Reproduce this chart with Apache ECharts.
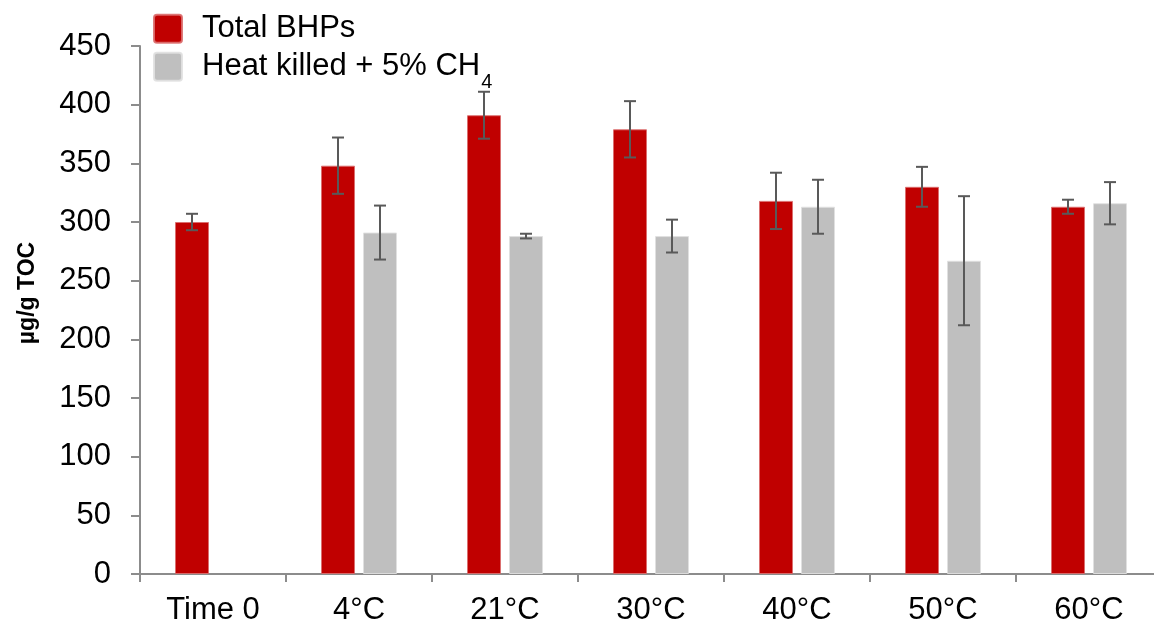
<!DOCTYPE html>
<html>
<head>
<meta charset="utf-8">
<script src="https://cdn.jsdelivr.net/npm/echarts@6/dist/echarts.min.js"></script>
<style>
  html, body { margin: 0; padding: 0; background: #fff; overflow: hidden; }
  /* the category axis runs a little past the right edge of the page */
  #chart { width: 1162px; height: 626px; }
</style>
</head>
<body>
<div id="chart"></div>
<script>
// Categories (incubation temperature)
const categories = ['Time 0', '4°C', '21°C', '30°C', '40°C', '50°C', '60°C'];

// Total BHPs (µg/g TOC) and standard deviation
const totalBHPs = [300, 348, 391, 379, 318, 330, 313];
const totalBHPsErr = [7, 24, 20, 24, 24, 17, 6];

// Heat killed + 5% CH4 control (no Time 0 sample)
const heatKilled = [null, 291, 288, 288, 313, 267, 316];
const heatKilledErr = [null, 23, 2, 14, 23, 55, 18];

// Y axis ticks
const yMin = 0, yMax = 450, yStep = 50;

const BAR_W = 34;
const BAR_GAP = 8;
const SQUARE = 'path://M3,0H25Q28,0 28,3V25Q28,28 25,28H3Q0,28 0,25V3Q0,0 3,0Z';

function errorData(vals, errs) {
  const out = [];
  vals.forEach((v, i) => {
    if (v == null || errs[i] == null) return;
    out.push([i, v - errs[i], v + errs[i]]);
  });
  return out;
}

function errorSeries(vals, errs, sign) {
  return {
    type: 'custom',
    z: 5,
    silent: true,
    data: errorData(vals, errs),
    encode: { x: 0, y: [1, 2] },
    renderItem: function (params, api) {
      const i = api.value(0);
      const lo = api.coord([i, api.value(1)]);
      const hi = api.coord([i, api.value(2)]);
      const x = lo[0] + sign * (BAR_W + BAR_GAP) / 2;
      const cap = 6;
      const style = { stroke: '#595959', lineWidth: 2 };
      return {
        type: 'group',
        children: [
          { type: 'line', shape: { x1: x, y1: hi[1], x2: x, y2: lo[1] }, style: style },
          { type: 'line', shape: { x1: x - cap, y1: hi[1], x2: x + cap, y2: hi[1] }, style: style },
          { type: 'line', shape: { x1: x - cap, y1: lo[1], x2: x + cap, y2: lo[1] }, style: style }
        ]
      };
    }
  };
}

const chart = echarts.init(document.getElementById('chart'), null, { renderer: 'canvas' });
const font = '"Liberation Sans", Arial, sans-serif';

const legendBase = {
  orient: 'vertical',
  left: 153,
  padding: 0,
  itemWidth: 28,
  itemHeight: 28,
  icon: SQUARE
};

chart.setOption({
  animation: false,
  textStyle: { fontFamily: font },
  grid: { left: 140, right: 0, top: 46, height: 528, containLabel: false },
  legend: [
    Object.assign({}, legendBase, {
      top: 11.3,
      data: ['Total BHPs'],
      textStyle: { fontFamily: font, fontSize: 31, lineHeight: 31, color: '#000', padding: [4, 0, 0, 15] }
    }),
    Object.assign({}, legendBase, {
      top: 39.2,
      data: ['Heat killed + 5% CH4'],
      formatter: function () { return '{t|Heat killed + 5% CH}{s|4}'; },
      textStyle: {
        fontFamily: font,
        color: '#000',
        padding: [0, 0, 0, 15],
        rich: {
          t: { fontSize: 31, lineHeight: 31, fontFamily: font, color: '#000', padding: [12, 0, 12, 0] },
          s: { fontSize: 20, lineHeight: 20, fontFamily: font, color: '#000', padding: [31.6, 0, 0, 1] }
        }
      }
    })
  ],
  graphic: [{
    type: 'text',
    x: 27.7,
    y: 293,
    rotation: Math.PI / 2,
    style: {
      text: 'µg/g TOC',
      font: 'bold 23px ' + font,
      fill: '#000',
      align: 'center',
      verticalAlign: 'middle'
    }
  }],
  xAxis: {
    type: 'category',
    data: categories,
    axisLine: { lineStyle: { color: '#8c8c8c', width: 2 } },
    axisTick: { show: true, length: 8, lineStyle: { color: '#8c8c8c', width: 2 } },
    axisLabel: { fontSize: 31, color: '#000', margin: 21, fontFamily: font },
    splitLine: { show: false }
  },
  yAxis: {
    type: 'value',
    min: yMin,
    max: yMax,
    interval: yStep,
    axisLine: { show: true, lineStyle: { color: '#8c8c8c', width: 2 } },
    axisTick: { show: true, length: 9, lineStyle: { color: '#8c8c8c', width: 2 } },
    axisLabel: { fontSize: 31, color: '#000', margin: 29, fontFamily: font },
    splitLine: { show: false }
  },
  series: [
    {
      name: 'Total BHPs',
      type: 'bar',
      data: totalBHPs,
      barWidth: BAR_W,
      barGap: (BAR_GAP / BAR_W * 100) + '%',
      itemStyle: { color: '#c00000', borderColor: 'rgba(220,110,110,0.9)', borderWidth: 1 }
    },
    {
      name: 'Heat killed + 5% CH4',
      type: 'bar',
      data: heatKilled,
      barWidth: BAR_W,
      itemStyle: { color: '#bfbfbf', borderColor: 'rgba(225,225,225,0.9)', borderWidth: 1 }
    },
    errorSeries(totalBHPs, totalBHPsErr, -1),
    errorSeries(heatKilled, heatKilledErr, 1)
  ]
});
</script>
</body>
</html>
